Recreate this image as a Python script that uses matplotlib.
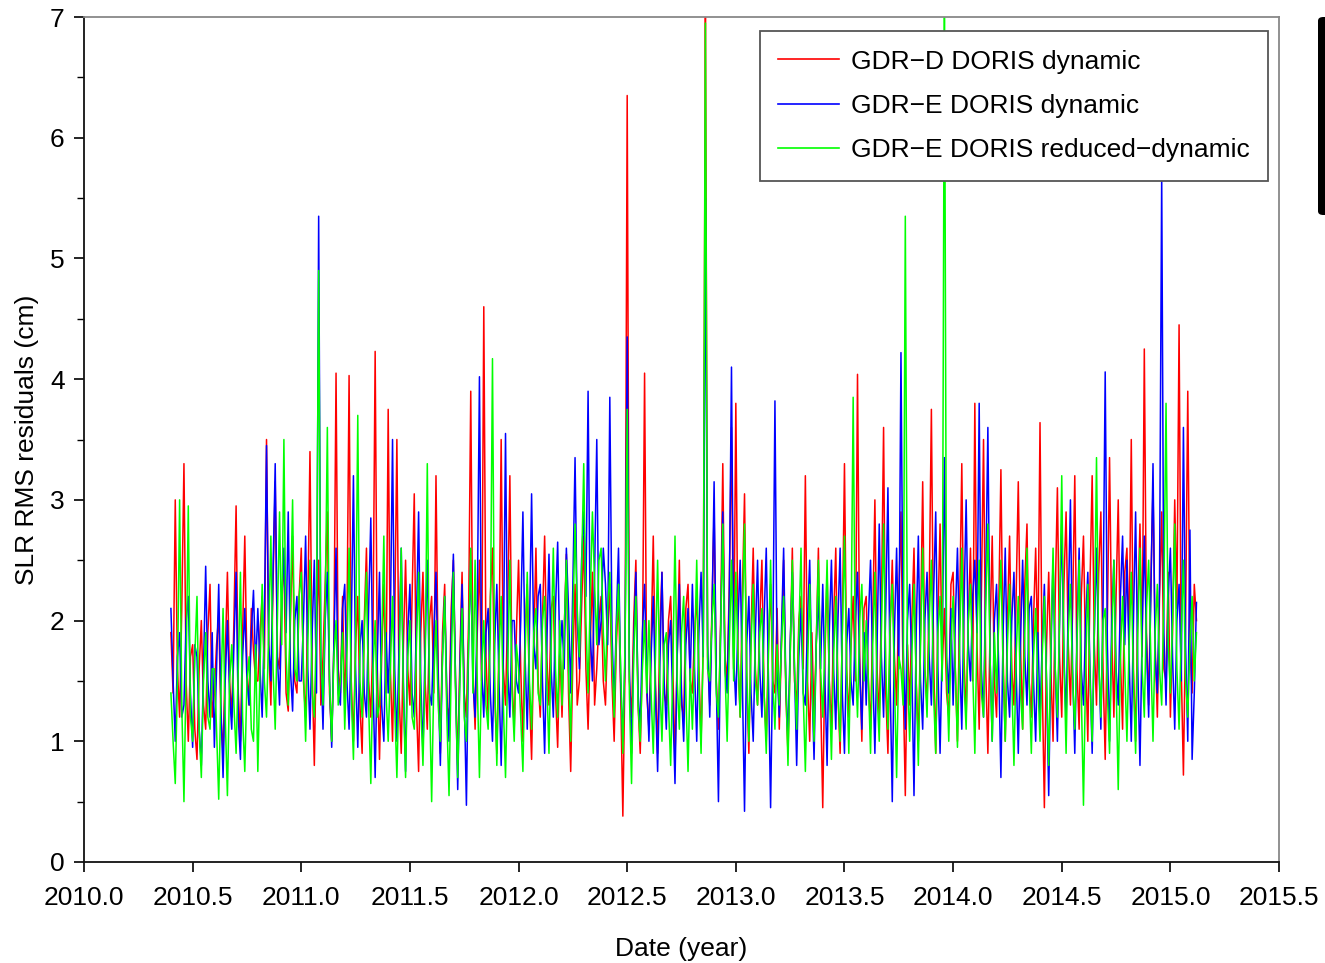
import numpy as np
import matplotlib
matplotlib.use("Agg")
import matplotlib.pyplot as plt
from matplotlib.patches import FancyBboxPatch
from matplotlib.ticker import MultipleLocator, FormatStrFormatter

plt.rcParams["font.family"] = ["Liberation Sans", "DejaVu Sans"]

# 1. Data (one sample every 0.01 yr from 2010.40)
t0 = 2010.40
dt = 0.01

gdrd_dyn = [
    1.9, 1.4, 3.0, 1.6, 1.2, 2.1, 3.3, 1.5, 1.0, 1.7, 1.8, 1.1, 0.85, 1.6, 2.0, 1.3, 1.1, 1.9, 2.3, 1.2,      # 2010.4
    1.4, 1.8, 2.05, 1.2, 0.9, 1.7, 2.4, 1.5, 1.2, 2.0, 2.95, 1.4, 1.0, 1.9, 2.7, 1.6, 1.3, 2.1, 1.75, 1.5,   # 2010.6
    1.5, 1.9, 2.2, 1.6, 3.5, 1.8, 1.3, 2.3, 3.15, 1.7, 1.6, 2.2, 2.5, 1.4, 1.25, 2.0, 2.7, 1.5, 1.4, 2.2,    # 2010.8
    2.6, 1.5, 1.2, 2.1, 3.4, 1.6, 0.8, 1.9, 2.5, 1.3, 1.7, 2.3, 2.9, 1.4, 1.0, 1.8, 4.05, 1.6, 1.4, 2.2,     # 2011.0
    1.3, 1.9, 4.03, 1.5, 1.0, 1.8, 2.2, 1.3, 0.9, 2.0, 2.6, 1.5, 1.2, 1.9, 4.23, 1.6, 0.85, 1.7, 2.3, 1.4,   # 2011.2
    3.75, 1.6, 1.0, 2.0, 3.5, 1.4, 0.9, 1.8, 2.5, 1.6, 1.3, 2.2, 3.05, 1.3, 0.75, 1.9, 2.4, 1.5, 1.1, 2.0,   # 2011.4
    2.2, 1.4, 3.2, 1.6, 0.9, 1.9, 2.3, 1.3, 1.2, 2.1, 2.5, 1.5, 0.8, 1.7, 2.4, 1.4, 1.2, 2.0, 3.9, 1.6,      # 2011.6
    1.1, 1.9, 2.5, 1.5, 4.6, 1.7, 1.2, 2.2, 2.6, 1.4, 0.9, 1.8, 3.5, 1.6, 1.3, 2.1, 3.2, 1.5, 1.1, 1.9,      # 2011.8
    2.5, 1.6, 1.0, 1.9, 2.3, 1.4, 0.85, 1.8, 2.6, 1.5, 1.2, 2.0, 2.7, 1.7, 1.3, 2.1, 2.2, 1.4, 0.95, 1.8,    # 2012.0
    1.2, 1.9, 2.55, 1.4, 0.75, 1.7, 2.3, 1.3, 1.5, 2.1, 2.7, 1.6, 1.1, 1.8, 2.4, 1.3, 1.6, 2.0, 2.2, 1.5,    # 2012.2
    1.3, 1.9, 2.3, 1.5, 1.0, 1.8, 2.2, 1.4, 0.38, 1.6, 6.35, 1.5, 1.2, 2.0, 2.5, 1.3, 0.9, 1.7, 4.05, 1.4,   # 2012.4
    1.1, 1.8, 2.7, 1.5, 0.9, 1.9, 2.4, 1.4, 1.3, 2.0, 2.2, 1.6, 0.85, 1.7, 2.5, 1.3, 1.2, 2.1, 2.3, 1.5,     # 2012.6
    1.4, 1.9, 2.2, 1.6, 1.0, 1.8, 7.2, 1.7, 1.3, 2.1, 2.9, 1.5, 1.1, 2.0, 3.3, 1.7, 1.5, 2.3, 3.6, 1.6,      # 2012.8
    3.8, 1.7, 1.2, 2.2, 3.05, 1.5, 0.9, 1.9, 2.6, 1.6, 1.3, 2.0, 2.5, 1.4, 1.0, 1.8, 2.3, 1.5, 1.4, 2.1,     # 2013.0
    1.1, 1.8, 2.5, 1.4, 0.9, 1.7, 2.6, 1.5, 1.3, 2.0, 2.2, 1.6, 3.2, 1.5, 1.0, 1.9, 1.2, 1.8, 2.6, 1.4,      # 2013.2
    0.45, 1.7, 2.4, 1.5, 1.1, 2.0, 2.6, 1.4, 0.9, 1.9, 3.3, 1.6, 1.2, 1.8, 2.2, 1.5, 4.04, 1.7, 1.0, 2.1,    # 2013.4
    2.2, 1.5, 1.1, 2.0, 3.0, 1.6, 1.2, 2.1, 3.6, 1.4, 0.9, 1.9, 2.5, 1.7, 1.3, 2.2, 2.9, 1.5, 0.55, 1.8,     # 2013.6
    1.3, 2.0, 2.6, 1.5, 1.0, 1.9, 3.15, 1.6, 1.3, 2.2, 3.75, 1.7, 0.9, 2.0, 2.8, 1.6, 2.1, 1.4, 1.2, 2.3,    # 2013.8
    2.4, 1.6, 1.0, 2.1, 3.3, 1.7, 1.2, 2.0, 2.6, 1.5, 3.8, 1.8, 1.1, 2.2, 3.5, 1.6, 0.9, 1.9, 2.7, 1.5,      # 2014.0
    1.2, 2.1, 3.25, 1.7, 1.0, 2.0, 2.7, 1.6, 1.3, 2.2, 3.15, 1.8, 1.1, 2.3, 2.8, 1.5, 1.2, 2.0, 2.6, 1.7,    # 2014.2
    3.64, 1.5, 0.45, 1.8, 2.4, 1.6, 1.0, 2.2, 3.1, 1.7, 1.2, 2.3, 2.9, 1.8, 1.3, 2.1, 3.2, 1.6, 1.1, 2.2,    # 2014.4
    2.7, 1.7, 1.0, 2.3, 3.2, 1.8, 1.3, 2.4, 2.9, 1.6, 0.85, 2.0, 3.35, 1.9, 1.2, 2.2, 3.0, 1.7, 1.1, 2.4,    # 2014.6
    2.6, 1.8, 3.5, 1.6, 1.0, 2.1, 2.8, 1.7, 4.25, 1.9, 1.3, 2.3, 3.1, 1.8, 1.2, 2.2, 2.9, 1.6, 1.5, 2.4,     # 2014.8
    1.2, 1.9, 3.0, 2.1, 4.45, 1.6, 0.72, 2.0, 3.9, 1.8, 1.4, 2.3, 2.0,                                      # 2015.0
]

gdre_dyn = [
    2.1, 1.5, 1.0, 1.7, 1.9, 1.2, 1.3, 2.0, 2.2, 1.4, 0.95, 1.8, 1.7, 1.1, 0.8, 1.6, 2.45, 1.5, 1.2, 1.9,
    0.95, 1.6, 2.3, 1.3, 0.7, 1.5, 2.0, 1.4, 1.1, 1.8, 2.4, 1.2, 0.85, 1.7, 2.1, 1.5, 1.3, 1.9, 2.25, 1.6,
    2.1, 1.6, 1.2, 2.0, 3.45, 1.8, 1.5, 2.4, 3.3, 1.7, 1.3, 2.1, 2.6, 1.9, 2.9, 1.6, 1.25, 2.0, 2.2, 1.5,
    1.5, 2.0, 2.7, 1.6, 1.1, 1.9, 2.5, 1.4, 5.35, 1.7, 1.1, 2.0, 2.4, 1.5, 0.95, 1.8, 2.6, 1.4, 1.3, 2.1,
    2.3, 1.5, 1.1, 1.9, 3.2, 1.6, 0.95, 1.8, 2.0, 1.4, 1.2, 2.1, 2.85, 1.5, 0.7, 1.7, 2.4, 1.3, 1.0, 1.9,
    1.4, 2.0, 3.5, 1.6, 1.0, 1.8, 2.6, 1.5, 0.75, 1.9, 2.3, 1.4, 1.2, 2.0, 2.9, 1.5, 0.9, 1.8, 2.5, 1.4,
    1.3, 1.9, 2.4, 1.5, 0.8, 1.7, 2.2, 1.4, 1.0, 1.9, 2.55, 1.5, 0.6, 1.6, 2.3, 1.4, 0.47, 1.8, 2.5, 1.5,
    1.2, 2.1, 4.02, 1.6, 1.2, 1.9, 2.1, 1.4, 1.0, 1.8, 2.3, 1.5, 0.8, 1.7, 3.55, 1.6, 1.2, 2.0, 2.0, 1.5,
    1.4, 2.0, 2.9, 1.7, 1.1, 1.9, 3.05, 1.8, 1.6, 2.2, 2.3, 1.5, 0.9, 1.8, 2.55, 1.6, 1.2, 2.1, 2.65, 1.7,
    2.0, 1.6, 2.6, 2.1, 1.4, 2.3, 3.35, 2.0, 1.6, 2.5, 2.9, 2.2, 3.9, 1.9, 1.5, 2.4, 3.5, 1.8, 2.0, 2.6,
    2.3, 1.8, 3.85, 1.9, 1.3, 2.0, 2.6, 1.5, 1.0, 1.7, 4.35, 1.6, 0.9, 1.8, 2.4, 1.4, 1.1, 1.9, 2.3, 1.5,
    1.0, 1.7, 2.2, 1.4, 0.75, 1.6, 2.4, 1.5, 1.1, 1.8, 2.0, 1.3, 0.65, 1.7, 2.3, 1.4, 1.0, 1.8, 2.1, 1.5,
    2.3, 1.6, 1.0, 1.9, 2.4, 1.7, 5.5, 1.8, 1.2, 2.0, 3.15, 1.5, 0.5, 1.9, 2.9, 1.6, 1.4, 2.2, 4.1, 1.7,
    1.3, 2.0, 2.5, 1.5, 0.42, 1.8, 2.2, 1.4, 1.0, 1.9, 2.5, 1.6, 1.2, 2.0, 2.6, 1.5, 0.45, 1.7, 3.82, 1.6,
    1.2, 1.9, 2.6, 1.5, 1.0, 1.8, 2.4, 1.6, 0.8, 1.7, 2.1, 1.4, 1.3, 2.0, 2.5, 1.5, 0.85, 1.8, 2.2, 1.6,
    2.3, 1.5, 0.8, 1.9, 2.5, 1.6, 1.1, 2.0, 2.6, 1.4, 0.9, 1.8, 2.1, 1.5, 1.3, 2.0, 2.4, 1.6, 1.1, 1.9,
    1.3, 2.0, 2.5, 1.6, 0.9, 1.8, 2.8, 1.7, 1.2, 2.1, 3.1, 1.5, 0.5, 1.9, 2.6, 1.6, 4.22, 1.8, 1.1, 2.0,
    2.3, 1.6, 0.55, 1.9, 2.7, 1.5, 1.1, 2.0, 2.4, 1.7, 1.3, 2.2, 2.9, 1.6, 0.9, 1.8, 3.35, 1.7, 1.4, 2.1,
    1.3, 2.0, 2.6, 1.7, 1.1, 2.1, 3.0, 1.8, 1.5, 2.2, 2.5, 1.9, 3.8, 1.6, 1.2, 2.3, 3.6, 1.7, 1.0, 2.0,
    2.3, 1.6, 0.7, 1.9, 2.6, 1.5, 1.2, 2.0, 2.4, 1.6, 0.9, 1.8, 2.5, 1.7, 1.3, 2.1, 2.2, 1.5, 1.0, 1.9,
    1.2, 1.8, 2.3, 1.5, 0.55, 1.7, 2.5, 1.6, 1.0, 2.0, 2.8, 1.7, 1.2, 2.1, 3.0, 1.6, 0.9, 1.9, 2.6, 1.6,
    1.3, 2.0, 2.4, 1.6, 0.9, 1.9, 2.6, 1.7, 1.1, 2.1, 4.06, 1.8, 1.0, 2.0, 2.5, 1.6, 1.3, 2.2, 2.7, 1.8,
    2.5, 1.7, 1.0, 2.0, 2.9, 1.6, 0.8, 1.9, 2.7, 1.8, 1.2, 2.2, 3.3, 1.7, 1.4, 2.3, 5.7, 1.9, 1.3, 2.2,
    2.6, 1.7, 1.1, 2.0, 2.3, 1.5, 3.6, 1.8, 1.0, 2.75, 0.85, 1.4, 2.15,
]

gdre_redyn = [
    1.4, 1.0, 0.65, 1.5, 3.0, 1.3, 0.5, 1.6, 2.95, 1.2, 1.0, 1.7, 2.2, 1.1, 0.7, 1.5, 1.9, 1.2, 1.1, 1.6,
    1.6, 1.1, 0.52, 1.4, 2.1, 1.2, 0.55, 1.5, 1.8, 1.3, 0.9, 1.6, 2.4, 1.2, 0.75, 1.5, 1.7, 1.1, 1.0, 1.8,
    0.75, 1.6, 2.3, 1.5, 1.2, 1.9, 2.7, 1.6, 1.1, 2.0, 2.9, 1.8, 3.5, 1.7, 1.3, 2.1, 3.0, 1.6, 1.5, 2.2,
    2.4, 1.6, 1.0, 1.8, 2.5, 1.4, 1.2, 2.0, 4.9, 1.7, 1.3, 2.1, 3.6, 1.5, 1.0, 1.7, 2.0, 1.3, 1.5, 1.9,
    1.1, 1.7, 2.6, 1.4, 0.85, 1.8, 3.7, 1.5, 1.2, 1.9, 2.4, 1.3, 0.65, 1.6, 2.0, 1.2, 1.3, 1.8, 2.7, 1.4,
    1.0, 1.6, 2.2, 1.3, 0.7, 1.5, 2.6, 1.4, 0.7, 1.7, 2.0, 1.2, 1.1, 1.8, 2.4, 1.3, 0.8, 1.6, 3.3, 1.4,
    0.5, 1.5, 2.0, 1.3, 1.0, 1.7, 2.2, 1.2, 0.55, 1.6, 2.4, 1.4, 0.7, 1.5, 2.1, 1.2, 1.0, 1.8, 2.6, 1.4,
    2.5, 1.5, 0.7, 1.6, 2.0, 1.3, 1.1, 1.9, 4.17, 1.5, 0.8, 1.7, 2.2, 1.3, 0.7, 1.6, 2.5, 1.4, 1.0, 1.8,
    1.6, 1.2, 0.75, 1.7, 2.4, 1.5, 1.1, 1.9, 2.1, 1.4, 1.3, 2.0, 2.2, 1.5, 0.9, 1.8, 2.6, 1.6, 1.2, 2.0,
    1.3, 1.9, 2.5, 1.6, 1.0, 2.0, 2.8, 2.1, 1.7, 2.4, 3.3, 2.0, 1.4, 2.2, 2.9, 2.3, 1.8, 2.5, 2.6, 1.9,
    1.5, 2.1, 2.4, 1.7, 1.2, 1.9, 2.3, 1.6, 0.9, 1.8, 3.75, 1.4, 0.65, 1.7, 2.2, 1.3, 1.0, 1.6, 2.0, 1.4,
    2.0, 1.4, 0.9, 1.7, 2.5, 1.5, 1.0, 1.8, 1.9, 1.3, 0.8, 1.6, 2.7, 1.5, 1.1, 1.9, 2.2, 1.4, 0.75, 1.6,
    1.1, 1.7, 2.5, 1.5, 0.9, 1.8, 6.95, 1.6, 1.5, 2.0, 2.3, 1.4, 1.2, 1.9, 2.8, 1.6, 1.0, 1.8, 2.5, 1.5,
    2.4, 1.7, 1.2, 2.0, 2.8, 1.6, 1.0, 1.8, 2.3, 1.5, 1.3, 1.9, 2.1, 1.4, 0.9, 1.7, 2.5, 1.5, 1.1, 1.8,
    1.3, 1.8, 2.2, 1.5, 0.8, 1.7, 2.5, 1.6, 1.1, 1.9, 2.6, 1.4, 0.75, 1.6, 2.3, 1.5, 1.0, 1.8, 2.5, 1.6,
    1.2, 1.8, 2.5, 1.5, 0.85, 1.7, 2.2, 1.4, 1.0, 1.9, 2.7, 1.6, 0.9, 1.8, 3.85, 1.7, 1.2, 2.0, 2.3, 1.5,
    2.0, 1.5, 0.9, 1.8, 2.4, 1.4, 1.0, 1.9, 2.8, 1.6, 1.1, 2.0, 2.3, 1.5, 0.7, 1.7, 1.6, 1.3, 5.35, 1.6,
    1.0, 1.7, 2.3, 1.5, 0.8, 1.8, 2.6, 1.6, 1.2, 2.0, 2.5, 1.4, 0.9, 1.9, 2.2, 1.5, 7.3, 1.6, 1.0, 1.8,
    2.2, 1.6, 0.95, 1.8, 2.6, 1.5, 1.1, 2.0, 2.3, 1.6, 0.9, 1.9, 2.5, 1.4, 1.2, 2.1, 2.8, 1.7, 1.0, 1.9,
    1.4, 2.0, 2.5, 1.6, 1.0, 1.8, 2.3, 1.5, 0.8, 1.7, 2.2, 1.4, 1.1, 1.9, 2.6, 1.5, 0.9, 1.7, 2.1, 1.5,
    1.0, 1.7, 2.2, 1.5, 0.8, 1.8, 2.6, 1.6, 1.2, 2.0, 3.2, 1.7, 0.9, 1.9, 2.3, 1.5, 1.1, 1.8, 2.5, 1.4,
    0.47, 1.6, 2.3, 1.5, 1.0, 1.9, 3.35, 1.7, 1.2, 2.0, 2.1, 1.4, 0.9, 1.8, 2.5, 1.5, 0.6, 1.7, 2.2, 1.6,
    1.0, 1.8, 2.4, 1.5, 0.9, 1.9, 2.6, 1.6, 1.2, 2.1, 2.5, 1.7, 1.0, 1.9, 2.3, 1.6, 1.3, 2.2, 3.8, 1.8,
    1.4, 2.0, 2.8, 1.6, 1.1, 1.9, 2.5, 1.5, 1.2, 1.8, 2.2, 1.5, 1.9,
]

labels = ["GDR\u2212D DORIS dynamic", "GDR\u2212E DORIS dynamic",
          "GDR\u2212E DORIS reduced\u2212dynamic"]
colors = ["#ff0000", "#0000ff", "#00ff00"]

dates = t0 + dt * np.arange(len(gdrd_dyn))

# 2. Plot
fig = plt.figure(figsize=(13.25, 9.63), dpi=100)
ax = fig.add_axes([0.0634, 0.1049, 0.9019, 0.8774])

for series, lab, col in zip([gdrd_dyn, gdre_dyn, gdre_redyn], labels, colors):
    ax.plot(dates, series, color=col, lw=1.1, label=lab)

ax.set_xlim(2010.0, 2015.5)
ax.set_ylim(0, 7)
ax.xaxis.set_major_locator(MultipleLocator(0.5))
ax.xaxis.set_major_formatter(FormatStrFormatter("%.1f"))
ax.yaxis.set_major_locator(MultipleLocator(1))
ax.yaxis.set_minor_locator(MultipleLocator(0.5))

ax.tick_params(axis="both", which="major", labelsize=19, length=7,
               width=1.2, direction="out", top=False, right=False, pad=7)
ax.tick_params(axis="x", which="major", pad=10)
ax.tick_params(axis="y", which="minor", length=5, width=1.0, direction="out")

for side in ["left", "bottom"]:
    ax.spines[side].set_color("#111111")
    ax.spines[side].set_linewidth(1.3)
for side in ["top", "right"]:
    ax.spines[side].set_color("#888888")
    ax.spines[side].set_linewidth(1.3)

ax.set_xlabel("Date (year)", fontsize=19, labelpad=20)
ax.set_ylabel("SLR RMS residuals (cm)", fontsize=19, labelpad=8)

leg = ax.legend(loc="upper right", bbox_to_anchor=(0.9908, 0.9834), fontsize=19,
                fancybox=False, framealpha=1, edgecolor="#555555",
                handlelength=2.3, handletextpad=0.45, labelspacing=0.77,
                borderpad=0.7, borderaxespad=0)
leg.get_frame().set_linewidth(1.3)
for line in leg.get_lines():
    line.set_linewidth(1.2)

# black bar at the right edge of the reference image
bar = FancyBboxPatch((1318 / 1325, (963 - 215) / 963), 0.02, 198 / 963,
                     boxstyle="round,pad=0,rounding_size=0.004",
                     transform=fig.transFigure, facecolor="black",
                     edgecolor="none", clip_on=False)
fig.patches.append(bar)

fig.savefig("out.png", dpi=100)
